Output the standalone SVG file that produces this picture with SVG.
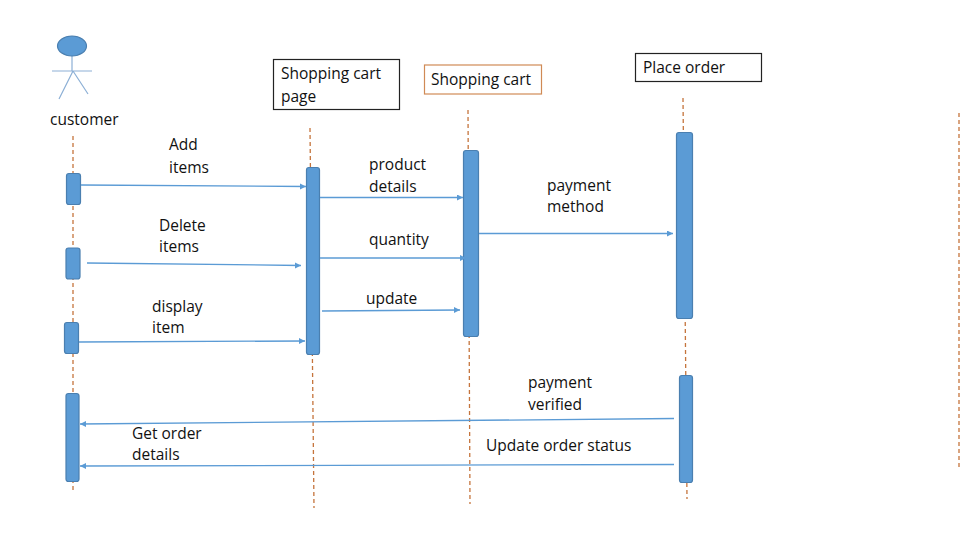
<svg xmlns="http://www.w3.org/2000/svg" width="960" height="540" viewBox="0 0 960 540">
<style>
text{font-family:"Open Sans","Liberation Sans",sans-serif;font-size:15.500px;fill:#111}
.life{stroke:#c5743c;stroke-width:1.3;stroke-dasharray:4 3;fill:none}
.bar{fill:#5b9bd5;stroke:#4a7fb0;stroke-width:1.2}
.msg{stroke:#5b9bd5;stroke-width:1.3;fill:none;marker-end:url(#a)}
.stick{stroke:#8db0d6;stroke-width:1.2;fill:none}
</style>
<defs><marker id="a" markerWidth="7" markerHeight="7" refX="6" refY="3" orient="auto" markerUnits="userSpaceOnUse"><path d="M0 0L6 3L0 6Z" fill="#5b9bd5"/></marker></defs>
<rect width="960" height="540" fill="#fff"/>
<g id="lifelines">
<path class="life" d="M73 136V490"/>
<path class="life" d="M310 128L314 508"/>
<path class="life" d="M468 110L470 504"/>
<path class="life" d="M683 98L687 499"/>
<path class="life" d="M959 113V467"/>
</g>
<g id="customer">
<path class="stick" d="M72 56V71M52 71H92M73 71L59 99M73 71L88 94"/>
<ellipse cx="72" cy="46" rx="14.500" ry="10" fill="#5b9bd5" stroke="#4a7fb0" stroke-width="1.200"/>
<text x="50" y="125">customer</text>
</g>
<g id="cart-page">
<rect x="273.500" y="59.500" width="126" height="50" fill="#fff" stroke="#222" stroke-width="1.200"/>
<text x="281" y="79">Shopping cart</text><text x="281" y="102">page</text>
<rect class="bar" x="306.500" y="167.500" width="13" height="187" rx="2.500"/>
</g>
<g id="cart">
<rect x="424.500" y="65" width="117" height="29" fill="#fff" stroke="#d08a55" stroke-width="1.200"/>
<text x="431" y="85">Shopping cart</text>
<rect class="bar" x="463.500" y="150.500" width="15" height="186" rx="2.500"/>
</g>
<g id="place-order">
<rect x="635.500" y="53.500" width="126" height="28" fill="#fff" stroke="#222" stroke-width="1.200"/>
<text x="643" y="73">Place order</text>
<rect class="bar" x="676.500" y="132.500" width="16" height="186" rx="2.500"/>
<rect class="bar" x="679.500" y="375.500" width="13" height="107" rx="2.500"/>
</g>
<g id="customer-activations">
<rect class="bar" x="66.500" y="173.500" width="14" height="31" rx="2.500"/>
<rect class="bar" x="66" y="248" width="14" height="31" rx="2.500"/>
<rect class="bar" x="64.500" y="322.500" width="14" height="31" rx="2.500"/>
<rect class="bar" x="66" y="393.500" width="13" height="88" rx="2.500"/>
</g>
<g id="connectors">
<path class="msg" d="M81 185L306 186.500"/>
<path class="msg" d="M87 263L301 265.500"/>
<path class="msg" d="M79 342L305 341"/>
<path class="msg" d="M320 197.500H463"/>
<path class="msg" d="M320 258H466"/>
<path class="msg" d="M322 311L460 310"/>
<path class="msg" d="M479 233.500H673"/>
<path class="msg" d="M674 418.500L80 424"/>
<path class="msg" d="M674 464.500L80 466"/>
</g>
<g id="labels">
<text x="169" y="150">Add</text><text x="169" y="173">items</text>
<text x="159" y="231">Delete</text><text x="159" y="252">items</text>
<text x="152" y="312">display</text><text x="152" y="333">item</text>
<text x="369" y="170">product</text><text x="369" y="192">details</text>
<text x="369" y="245">quantity</text>
<text x="366" y="304">update</text>
<text x="547" y="191">payment</text><text x="547" y="212">method</text>
<text x="528" y="388">payment</text><text x="528" y="410">verified</text>
<text x="132" y="439">Get order</text><text x="132" y="460">details</text>
<text x="486" y="451">Update order status</text>
</g>
</svg>
